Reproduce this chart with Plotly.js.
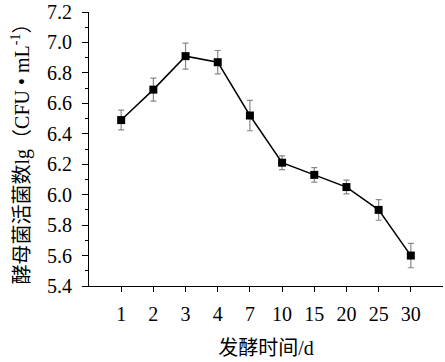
<!DOCTYPE html>
<html><head><meta charset="utf-8">
<script src="https://cdn.plot.ly/plotly-3.0.1.min.js"></script>
<style>body{margin:0;background:#fff}#c{width:445px;height:362px}</style>
</head><body><div id="c"></div>
<script>
const days = ['1','2','3','4','7','10','15','20','25','30'];
const counts = [6.49, 6.69, 6.91, 6.87, 6.52, 6.21, 6.13, 6.05, 5.90, 5.60];
const errs = [0.065, 0.075, 0.085, 0.077, 0.10, 0.045, 0.047, 0.045, 0.068, 0.08];
const idx = days.map((d,i)=>i);
const serif = 'Liberation Serif, Times New Roman, serif';
const cjk = 'Liberation Serif, Noto Sans CJK SC, serif';
Plotly.newPlot('c', [{
  x: idx, y: counts, type: 'scatter', mode: 'lines+markers',
  line: {color: '#000', width: 1.5},
  marker: {symbol: 'square', size: 8, color: '#000'},
  error_y: {type: 'data', array: errs, visible: true, color: '#888', thickness: 1.2, width: 3}
}], {
  width: 445, height: 362,
  margin: {l: 89, r: 2, t: 12, b: 76},
  paper_bgcolor: '#fff', plot_bgcolor: '#fff',
  showlegend: false,
  xaxis: {
    range: [-1, 10], tickvals: idx, ticktext: days,
    showline: true, linecolor: '#000', linewidth: 1,
    ticks: 'outside', ticklen: 5, tickcolor: '#000',
    ticklabelstandoff: 5,
    showgrid: false, zeroline: false,
    tickfont: {family: serif, size: 20, color: '#000'},
    title: {text: '发酵时间/d', font: {family: cjk, size: 20, color: '#000'}, standoff: 16}
  },
  yaxis: {
    range: [5.4, 7.2], dtick: 0.2, tick0: 5.4, tickformat: '.1f',
    showline: true, linecolor: '#000', linewidth: 1,
    ticks: 'outside', ticklen: 6, tickcolor: '#000',
    ticklabelstandoff: 6,
    minor: {ticks: 'outside', ticklen: 3, dtick: 0.1, tickcolor: '#000'},
    showgrid: false, zeroline: false,
    tickfont: {family: serif, size: 20, color: '#000'},
    title: {text: '酵母菌活菌数lg（CFU • mL<sup>-1</sup>）', font: {family: cjk, size: 20, color: '#000'}, standoff: 12}
  }
}, {displayModeBar: false, staticPlot: true});
</script></body></html>
